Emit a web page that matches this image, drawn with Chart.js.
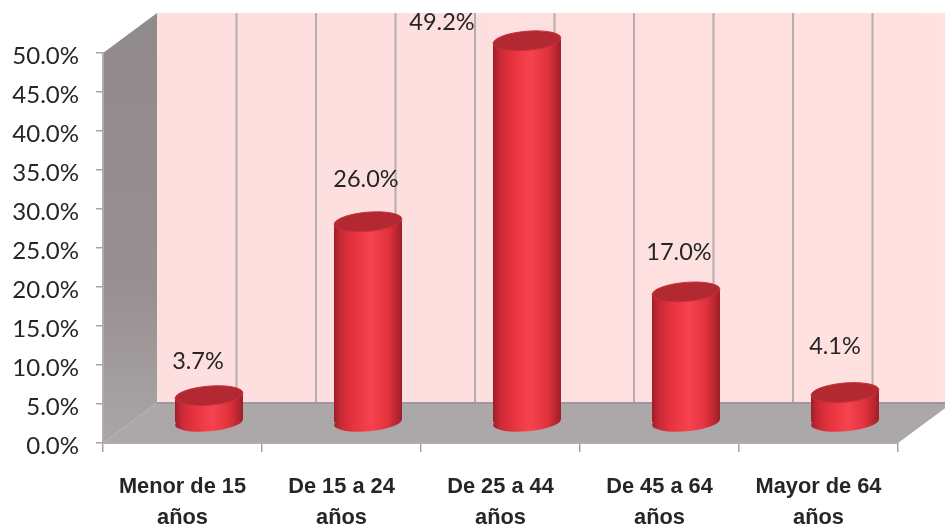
<!DOCTYPE html>
<html><head><meta charset="utf-8">
<style>html,body{margin:0;padding:0;background:#fff}canvas{display:block}</style>
<script src="https://cdn.jsdelivr.net/npm/chart.js@4"></script>
</head><body><canvas id="c" width="945" height="529"></canvas>
<script>
const categories=[["Menor de 15","años"],["De 15 a 24","años"],["De 25 a 44","años"],["De 45 a 64","años"],["Mayor de 64","años"]];
const shares=[3.7,26.0,49.2,17.0,4.1];
const yStep=5;
const yMax=50;

const DEPTH_X=54,DEPTH_Y=40,SHIFT_X=26.5,SHIFT_Y=20,BAR_W=68,RY=9.5,TILT=-0.085,TOP_DROP=1.5;
const labelOffsets=[[15.5,-53],[24.5,-61],[-58.5,-37],[19.5,-58],[16.5,-65]];

function bodyGradient(ctx,cx){
  const g=ctx.createLinearGradient(cx-BAR_W/2,0,cx+BAR_W/2,0);
  g.addColorStop(0,'#9c1f28');g.addColorStop(0.1,'#c92a35');g.addColorStop(0.3,'#e8343f');
  g.addColorStop(0.55,'#f6434f');g.addColorStop(0.8,'#e0323d');g.addColorStop(0.93,'#b8262f');g.addColorStop(1,'#98202a');
  return g;
}
const scene={
  id:'scene',
  beforeDraw(chart){
    const {ctx}=chart,x=chart.scales.x,y=chart.scales.y;
    const L=x.left,R=x.right,B=y.bottom,T=y.top;
    ctx.save();
    const wall=ctx.createLinearGradient(L+DEPTH_X,0,R+DEPTH_X,0);
    wall.addColorStop(0,'#fcdfde');wall.addColorStop(0.4,'#fddfdf');wall.addColorStop(1,'#ffe1e0');
    ctx.fillStyle=wall;ctx.fillRect(L+DEPTH_X,T-DEPTH_Y,R-L,B-T);
    ctx.strokeStyle='#b5aeac';ctx.lineWidth=2;
    const half=(R-L)/categories.length/2;
    for(let k=1;k<categories.length*2;k++){
      const gx=L+DEPTH_X+k*half;
      ctx.beginPath();ctx.moveTo(gx,T-DEPTH_Y);ctx.lineTo(gx,B-DEPTH_Y);ctx.stroke();
    }
    const side=ctx.createLinearGradient(0,T,0,B);
    side.addColorStop(0,'#928b8d');side.addColorStop(0.6,'#979092');side.addColorStop(1,'#aaa6a6');
    ctx.fillStyle=side;ctx.beginPath();
    ctx.moveTo(L,T);ctx.lineTo(L+DEPTH_X,T-DEPTH_Y);ctx.lineTo(L+DEPTH_X,B-DEPTH_Y);ctx.lineTo(L,B);ctx.closePath();ctx.fill();
    ctx.fillStyle='#aca7a8';ctx.beginPath();
    ctx.moveTo(L,B);ctx.lineTo(L+DEPTH_X,B-DEPTH_Y);ctx.lineTo(R+DEPTH_X,B-DEPTH_Y);ctx.lineTo(R,B);ctx.closePath();ctx.fill();
    ctx.strokeStyle='#9c9798';ctx.lineWidth=2;
    ctx.beginPath();ctx.moveTo(L+DEPTH_X,B-DEPTH_Y);ctx.lineTo(R+DEPTH_X,B-DEPTH_Y);ctx.stroke();
    ctx.restore();
  },
  beforeDatasetDraw(chart){
    const {ctx}=chart;
    const bars=chart.getDatasetMeta(0).data;
    const lift=BAR_W/2*Math.tan(-TILT);
    ctx.save();ctx.translate(SHIFT_X,-SHIFT_Y);
    bars.forEach(b=>{
      ctx.fillStyle=bodyGradient(ctx,b.x);
      ctx.beginPath();ctx.ellipse(b.x,b.base,BAR_W/2,RY-0.5,TILT,0,Math.PI*2);ctx.fill();
    });
    ctx.save();
    ctx.beginPath();
    bars.forEach(b=>{
      const hw=BAR_W/2;
      ctx.moveTo(b.x-hw,b.y+TOP_DROP+lift);
      ctx.lineTo(b.x+hw,b.y+TOP_DROP-lift);
      ctx.lineTo(b.x+hw,b.base-lift);
      ctx.lineTo(b.x-hw,b.base+lift);
      ctx.closePath();
    });
    ctx.clip();
  },
  afterDatasetDraw(chart){
    const {ctx}=chart;
    ctx.restore();
    chart.getDatasetMeta(0).data.forEach(b=>{
      ctx.fillStyle='#b32931';
      ctx.strokeStyle='#c9303a';ctx.lineWidth=1;
      ctx.beginPath();ctx.ellipse(b.x,b.y+TOP_DROP,BAR_W/2,RY,TILT,0,Math.PI*2);ctx.fill();ctx.stroke();
    });
    ctx.restore();
  },
  afterDraw(chart){
    const {ctx}=chart;
    ctx.save();
    ctx.font='23.5px Lato';ctx.fillStyle='#262626';ctx.textAlign='center';ctx.textBaseline='middle';
    chart.getDatasetMeta(0).data.forEach((b,i)=>{
      ctx.fillText(shares[i].toFixed(1)+'%',b.x+labelOffsets[i][0],b.y+labelOffsets[i][1]);
    });
    ctx.restore();
  }
};
new Chart(document.getElementById('c'),{
  type:'bar',
  data:{labels:categories,datasets:[{
    data:shares,clip:false,borderWidth:0,
    backgroundColor(c){
      const px=c.dataIndex===undefined?NaN:c.chart.scales.x.getPixelForValue(c.dataIndex);
      return Number.isFinite(px)?bodyGradient(c.chart.ctx,px):'#e8343f';
    },
    categoryPercentage:1,barPercentage:BAR_W/159
  }]},
  options:{
    responsive:false,animation:false,
    layout:{padding:{top:53,right:47,left:0,bottom:0}},
    plugins:{legend:{display:false},title:{display:false},tooltip:{enabled:false}},
    scales:{
      x:{
        afterFit(s){s.height=86;},
        border:{color:'#b0acac',width:2},
        grid:{display:true,drawOnChartArea:false,drawTicks:true,tickLength:9,color:'#a8a4a4',lineWidth:1.5},
        ticks:{color:'#262626',font:{family:'Liberation Sans',weight:'bold',size:21.8,lineHeight:31/21.8},padding:19,maxRotation:0,autoSkip:false}
      },
      y:{
        min:0,max:yMax,
        afterFit(s){s.width=103;},
        border:{color:'#b0acac',width:2},
        grid:{display:true,drawOnChartArea:false,drawTicks:true,tickLength:7,color:'#a8a4a4',lineWidth:1.5},
        ticks:{stepSize:yStep,color:'#262626',font:{family:'Lato',size:24},padding:17,labelOffset:3,callback:v=>v.toFixed(1)+'%'}
      }
    }
  },
  plugins:[scene]
});
</script></body></html>
